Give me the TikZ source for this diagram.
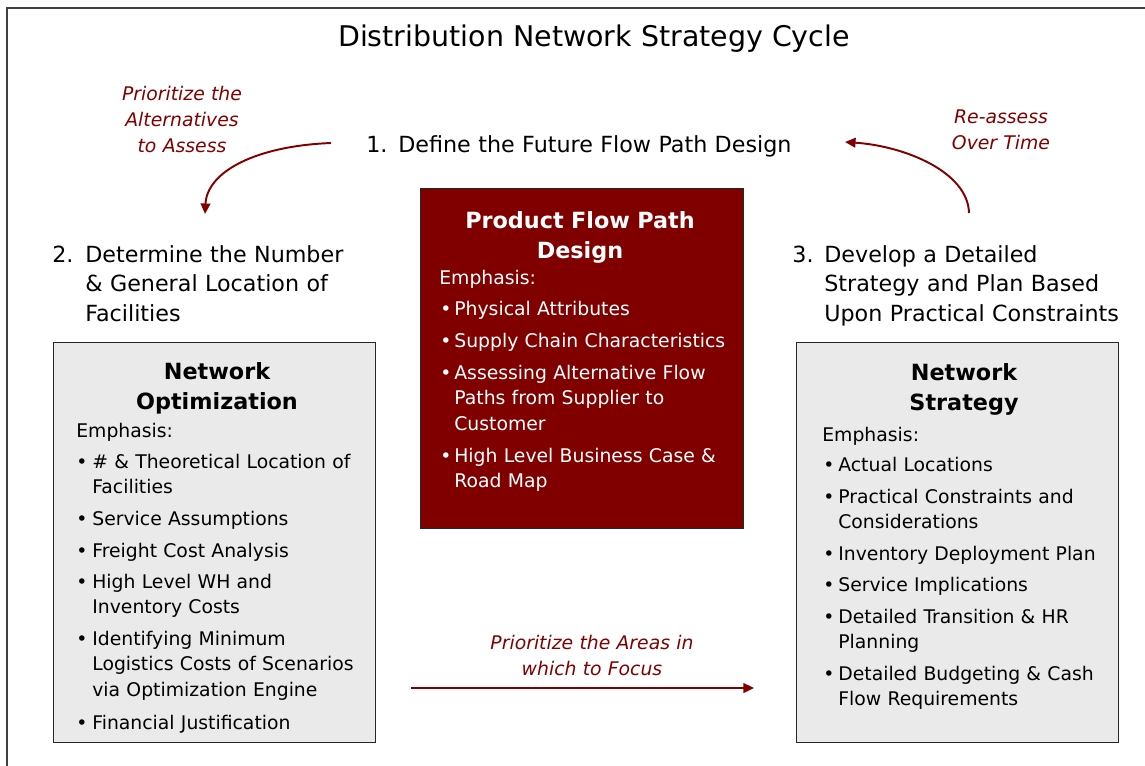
\documentclass[tikz,border=0pt]{standalone}
\usepackage{fontspec}
\setmainfont{DejaVu Sans}
\usetikzlibrary{arrows.meta}

\definecolor{darkred}{HTML}{800000}
\definecolor{boxgray}{HTML}{EAEAEA}

\tikzset{
  ttl/.style={inner sep=0pt, anchor=base, font=\fontsize{16.2}{18}\selectfont},
  num/.style={inner sep=0pt, anchor=base west, font=\fontsize{12.65}{17}\selectfont},
  stepline/.style={num, text width=8cm, align=left},
  boxhead/.style={inner sep=0pt, anchor=base, text width=6cm, align=center,
    font=\bfseries\fontsize{12.7}{17.6}\selectfont},
  body/.style={inner sep=0pt, anchor=base west, text width=8cm, align=left,
    font=\fontsize{10.7}{14.7}\selectfont},
  lbl/.style={inner sep=0pt, anchor=base, text width=6cm, align=center, text=darkred,
    font=\itshape\fontsize{10.7}{15}\selectfont},
  panel/.style={draw=black!85, line width=0.7pt, fill=boxgray, anchor=north west,
    minimum width=6.44cm, minimum height=8cm, inner sep=0pt},
  flow/.style={darkred, line width=1.1pt, -{Triangle[length=6pt,width=5.5pt]}}
}

\begin{document}
\begin{tikzpicture}[x=0.02cm, y=-0.02cm]
  \useasboundingbox (0,0) rectangle (1145,765);
  \draw[black!75, line width=1.3pt] (7,780) -- (7,8) -- (1160,8);

  \node[ttl] (title) at (594,46) {Distribution Network Strategy Cycle};

  % the three steps
  \node[num] (n1) at (366,152) {1.};
  \node[stepline] (s1) at (398,152) {Define the Future Flow Path Design};
  \node[num] (n2) at (52,262) {2.};
  \node[stepline] (s2) at (85,262) {Determine the Number\\\& General Location of\\Facilities};
  \node[num] (n3) at (792,262) {3.};
  \node[stepline] (s3) at (824,262) {Develop a Detailed\\Strategy and Plan Based\\Upon Practical Constraints};

  % boxes
  \node[panel] (opt) at (53,342) {};
  \node[panel, fill=darkred, minimum width=6.46cm, minimum height=6.8cm] (flowbox) at (420,188) {};
  \node[panel] (strat) at (796,342) {};

  \node[boxhead] (opthead) at (217,379) {Network\\Optimization};
  \node[body] (optemph) at (76,437) {Emphasis:};
  \foreach \y/\t [count=\i] in {468/{\# \& Theoretical Location of\\Facilities},
      525/Service Assumptions, 557/Freight Cost Analysis,
      588/{High Level WH and\\Inventory Costs},
      645/{Identifying Minimum\\Logistics Costs of Scenarios\\via Optimization Engine},
      729/Financial Justification}{
    \node[body] (optdot\i) at (76,\y) {\textbullet};
    \node[body] (opt\i) at (92,\y) {\t};
  }

  \node[boxhead, text=white] (flowhead) at (580,228) {Product Flow Path\\Design};
  \node[body, text=white] (flowemph) at (439,284) {Emphasis:};
  \foreach \y/\t [count=\i] in {315/Physical Attributes, 347/Supply Chain Characteristics,
      379/{Assessing Alternative Flow\\Paths from Supplier to\\Customer},
      462/{High Level Business Case \&\\Road Map}}{
    \node[body, text=white] (flowdot\i) at (440,\y) {\textbullet};
    \node[body, text=white] (flow\i) at (454,\y) {\t};
  }

  \node[boxhead] (strathead) at (964,380) {Network\\Strategy};
  \node[body] (stratemph) at (822,441) {Emphasis:};
  \foreach \y/\t [count=\i] in {471/Actual Locations,
      503/{Practical Constraints and\\Considerations},
      560/Inventory Deployment Plan, 591/Service Implications,
      623/{Detailed Transition \& HR\\Planning},
      680/{Detailed Budgeting \& Cash\\Flow Requirements}}{
    \node[body] (stratdot\i) at (823,\y) {\textbullet};
    \node[body] (strat\i) at (838,\y) {\t};
  }

  % cycle arrows and their labels
  \node[lbl] (prio) at (182,100) {Prioritize the\\Alternatives\\to Assess};
  \node[lbl] (reass) at (1001,123) {Re-assess\\Over Time};
  \node[lbl] (focus) at (592,649) {Prioritize the Areas in\\which to Focus};

  \coordinate (a1s) at (331,143);
  \coordinate (a1e) at (205,214);
  \coordinate (a2s) at (969,213);
  \coordinate (a2e) at (845,142);
  \coordinate (a3s) at (411,688);
  \coordinate (a3e) at (754,688);
  \draw[flow] (a1s) .. controls (255,146) and (207,172) .. (a1e);
  \draw[flow] (a2s) .. controls (968,172) and (905,146) .. (a2e);
  \draw[flow] (a3s) -- (a3e);
\end{tikzpicture}
\end{document}
